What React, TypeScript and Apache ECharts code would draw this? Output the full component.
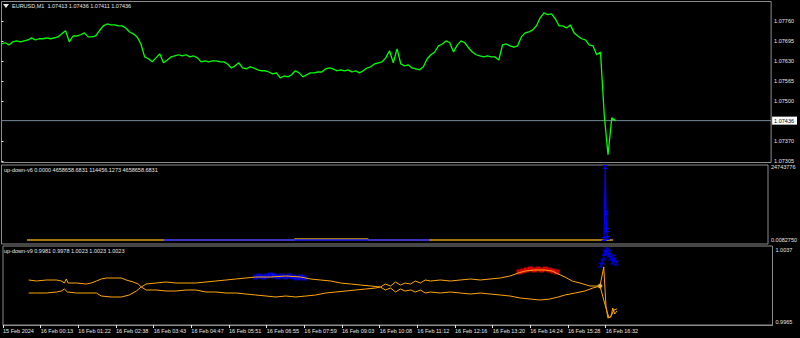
import React, { useEffect, useRef } from "react";
import * as echarts from "echarts";

// ---------- data ----------
const symbolTitle = "EURUSD,M1";
const headerOHLC = ["1.07413", "1.07436", "1.07411", "1.07436"];
const v6Name = "up-down-v6";
const v6Values = ["0.0000", "4658658.6831", "114456.1273", "4658658.6831"];
const v9Name = "up-down-v9";
const v9Values = ["0.9981", "0.9978", "1.0023", "1.0023", "1.0023"];

const timeLabels = [
  "15 Feb 2024", "16 Feb 00:13", "16 Feb 01:22", "16 Feb 02:38", "16 Feb 03:43",
  "16 Feb 04:47", "16 Feb 05:51", "16 Feb 06:55", "16 Feb 07:59", "16 Feb 09:03",
  "16 Feb 10:08", "16 Feb 11:12", "16 Feb 12:16", "16 Feb 13:20", "16 Feb 14:24",
  "16 Feb 15:28", "16 Feb 16:32",
];
const timeTickIdx = timeLabels.map((_, i) => i * 10);

const priceTicks = [1.07305, 1.0737, 1.075, 1.07565, 1.0763, 1.07695, 1.0776];
const lastPrice = 1.07436;

// close price, one value per bar index
const closePrices = [
  1.07685, 1.07689, 1.07682, 1.07692, 1.07695, 1.07692, 1.07695, 1.07698, 1.07705, 1.07698,
  1.07702, 1.07702, 1.07705, 1.07702, 1.07705, 1.07708, 1.07718, 1.07728, 1.07692, 1.07711,
  1.07711, 1.07715, 1.07721, 1.07708, 1.07708, 1.07711, 1.07728, 1.07744, 1.0775, 1.07747,
  1.07747, 1.07744, 1.07744, 1.07737, 1.07724, 1.07718, 1.07708, 1.07685, 1.07643, 1.07637,
  1.07627, 1.0764, 1.07653, 1.07624, 1.07633, 1.07643, 1.07646, 1.0765, 1.07646, 1.0765,
  1.07643, 1.07646, 1.0764, 1.07627, 1.0763, 1.07627, 1.0763, 1.0763, 1.07627, 1.07627,
  1.0762, 1.07607, 1.07614, 1.07624, 1.07607, 1.07604, 1.07611, 1.07607, 1.07601, 1.07598,
  1.07598, 1.07594, 1.07588, 1.07591, 1.07575, 1.07581, 1.07578, 1.07585, 1.07598, 1.07591,
  1.07578, 1.07585, 1.07591, 1.07591, 1.07594, 1.07594, 1.07604, 1.07607, 1.07604, 1.07598,
  1.07601, 1.07598, 1.07601, 1.07594, 1.07598, 1.07591, 1.07598, 1.07607, 1.07611, 1.0762,
  1.07624, 1.07627, 1.0764, 1.07663, 1.07624, 1.07669, 1.0762, 1.07614, 1.07617, 1.07607,
  1.07604, 1.07601, 1.07611, 1.07637, 1.0765, 1.07659, 1.07679, 1.07685, 1.07695, 1.07689,
  1.07659, 1.07682, 1.07695, 1.07689, 1.07672, 1.07659, 1.0765, 1.07646, 1.07643, 1.07646,
  1.07643, 1.07643, 1.07633, 1.07682, 1.07685, 1.07679, 1.07675, 1.07679, 1.07708, 1.07721,
  1.07724, 1.07731, 1.07744, 1.0777, 1.07786, 1.0778, 1.07783, 1.07767, 1.07744, 1.07744,
  1.07737, 1.07747, 1.07721, 1.07711, 1.07702, 1.07698, 1.07682, 1.07679, 1.0765, 1.07659,
  1.07455, 1.07325, 1.07445, 1.07436,
];

// up-down-v6 (panel 2)
const v6Ticks = [0.008275, 24743776];
const v6TickLabels = ["0.0082750", "24743776"];
const v6GoldX = [6.8, 78.0, 78.2, 97.6, 97.8, 163.0];
const v6GoldV = [0.008275, 0.008275, 339000, 339000, 0.008275, 0.008275];
const v6BlueX = [43.3, 114.0];
const v6BlueV = [0.008275, 0.008275];
const v6SpikeX = [160.6, 160.9, 161.1, 161.3, 161.5];
const v6SpikeV = [300000, 24743776, 9150000, 3390000, 680000];

// up-down-v9 (panel 3)
const v9Ticks = [0.9965, 1.0037];
const v9LineAX = [
  6.8, 8.9, 11.5, 14.2, 15.5, 16.3, 16.8, 17.3, 19.5, 22.1, 23.4, 24.8, 26.1, 27.4, 29.3, 31.4,
  32.7, 34.6, 35.9, 36.7, 38.0, 40.6, 43.3, 45.9, 48.6, 51.2, 53.9, 56.5, 59.2, 61.8, 64.5, 67.1,
  69.8, 72.4, 75.1, 77.7, 80.4, 83.0, 85.7, 88.3, 91.0, 93.6, 96.3, 98.9, 100.2, 101.5, 102.9,
  104.2, 105.5, 106.8, 108.2, 109.5, 110.8, 112.1, 113.5, 116.1, 118.8, 121.4, 124.1, 126.7,
  129.3, 132.0, 134.6, 136.8, 138.6, 141.3, 143.9, 145.8, 147.4, 149.2, 151.1, 153.2, 155.8,
  158.5, 159.5, 160.1, 160.6, 161.4, 161.9, 162.4, 163.0,
];
const v9LineAV = [
  1.00065, 1.00055, 1.00065, 1.00065, 1.00055, 1.00035, 1.00075, 1.00035, 1.00035, 1.00025,
  1.00035, 1.00055, 1.00075, 1.00085, 1.00085, 1.00085, 1.00065, 1.00045, 1.00025, 0.99995,
  0.99965, 0.99965, 0.99955, 0.99955, 0.99965, 0.99965, 0.99945, 0.99945, 0.99935, 0.99935,
  0.99925, 0.99915, 0.99905, 0.99895, 0.99905, 0.99895, 0.99905, 0.99915, 0.99935, 0.99945,
  0.99955, 0.99965, 0.99975, 0.99985, 0.99995, 1.00025, 1.00005, 1.00045, 1.00015, 1.00035,
  1.00025, 1.00055, 1.00035, 1.00065, 1.00055, 1.00065, 1.00055, 1.00065, 1.00075, 1.00065,
  1.00075, 1.00085, 1.00105, 1.00135, 1.00155, 1.00165, 1.00165, 1.00155, 1.00125, 1.00095,
  1.00055, 1.00035, 1.00005, 1.00005, 1.00195, 0.99795, 0.99685, 0.99695, 0.99785, 0.99725,
  0.99755,
];
const v9LineBX = [
  6.8, 8.9, 11.5, 14.2, 15.5, 16.3, 17.1, 19.5, 22.1, 24.8, 26.1, 28.7, 31.4, 33.5, 35.4, 36.7,
  38.0, 40.6, 43.3, 45.9, 48.6, 51.2, 53.9, 56.5, 59.2, 61.8, 64.5, 67.1, 71.1, 75.1, 79.0, 81.7,
  84.3, 87.0, 89.6, 92.3, 94.9, 97.6, 100.2, 101.5, 102.9, 104.2, 105.5, 106.8, 108.2, 109.5,
  110.8, 112.1, 113.5, 116.1, 118.8, 121.4, 124.1, 126.7, 129.3, 132.0, 134.6, 137.3, 139.9,
  142.6, 145.2, 147.4, 149.2, 151.9, 154.5, 156.6, 158.5, 159.5, 160.1, 160.9, 161.6, 162.2,
  163.0,
];
const v9LineBV = [
  0.99935, 0.99935, 0.99935, 0.99945, 0.99955, 0.99975, 0.99945, 0.99935, 0.99935, 0.99935,
  0.99905, 0.99895, 0.99895, 0.99915, 0.99955, 0.99995, 1.00025, 1.00035, 1.00045, 1.00035,
  1.00035, 1.00035, 1.00045, 1.00055, 1.00065, 1.00075, 1.00085, 1.00095, 1.00095, 1.00105,
  1.00095, 1.00075, 1.00065, 1.00055, 1.00035, 1.00025, 1.00015, 1.00005, 0.99995, 0.99965,
  0.99985, 0.99945, 0.99975, 0.99955, 0.99965, 0.99945, 0.99965, 0.99935, 0.99945, 0.99935,
  0.99945, 0.99935, 0.99925, 0.99935, 0.99925, 0.99915, 0.99905, 0.99885, 0.99875, 0.99865,
  0.99875, 0.99895, 0.99915, 0.99935, 0.99955, 0.99985, 1.00005, 0.99865, 0.99785, 0.99685,
  0.99715, 0.99765, 0.99775,
];
const v9BlueAX = [67, 68, 69, 70, 71, 72, 73, 74, 75, 76, 77, 78, 79, 80];
const v9BlueAV = [
  1.00095, 1.00105, 1.00095, 1.00105, 1.00115, 1.00105, 1.00095, 1.00105, 1.00095, 1.00105,
  1.00095, 1.00085, 1.00095, 1.00085,
];
const v9RedX = [137, 138, 139, 140, 141, 142, 143, 144, 145, 146, 147];
const v9RedV = [
  1.00145, 1.00155, 1.00165, 1.00175, 1.00165, 1.00175, 1.00165, 1.00175, 1.00165, 1.00155,
  1.00145,
];
const v9BlueBX = [158.6, 159.2, 159.5, 159.8, 160.0, 160.3, 160.8, 161.0, 161.3, 161.8, 162.0, 162.3, 162.8];
const v9BlueBV = [
  1.00215, 1.00245, 1.00295, 1.00345, 1.00335, 1.00365, 1.00315, 1.00345, 1.00285, 1.00245,
  1.00295, 1.00265, 1.00235,
];
const v9CrossX = [158.5];
const v9CrossV = [1.00005];

// ---------- helpers ----------
const zip = (xs: number[], vs: number[]) => xs.map((x, i) => [x, vs[i]]);

const TXT = "#e6e6e6";
const FRAME = "#8c8c8c";
const FONT = "Liberation Sans";
const FS = 5.5;
const X_MAX = 204.3;

const hourglass = "path://M0,0L10,0L5,5L10,10L0,10L5,5Z";

export default function App() {
  const ref = useRef<HTMLDivElement>(null);

  useEffect(() => {
    document.body.style.margin = "0";
    document.body.style.background = "#000";
    if (!ref.current) return;
    const chart = echarts.init(ref.current, undefined, { renderer: "svg" });

    const grids = [
      { left: 1.5, top: 1.5, width: 771, height: 161 },
      { left: 1.5, top: 165, width: 771, height: 79 },
      { left: 1.5, top: 246, width: 771, height: 79 },
    ].map((g) => ({ ...g, show: true, borderColor: FRAME, borderWidth: 1, backgroundColor: "transparent" }));

    const hiddenX = (gi: number) => ({
      type: "value" as const, gridIndex: gi, min: 0, max: X_MAX, show: false,
      splitLine: { show: false },
    });

    const yBase = {
      type: "value" as const,
      position: "right" as const,
      splitLine: { show: false },
      axisLine: { show: false },
      axisTick: { show: true, length: 2, lineStyle: { color: TXT } },
      axisLabel: { color: TXT, fontSize: FS, fontFamily: FONT, margin: 3, showMinLabel: true, showMaxLabel: true },
    };

    const priceLabelValues = [...priceTicks, lastPrice];

    const option: any = {
      animation: false,
      backgroundColor: "#000",
      grid: grids,
      xAxis: [
        hiddenX(0),
        hiddenX(1),
        {
          type: "value", gridIndex: 2, min: 0, max: X_MAX,
          splitLine: { show: false },
          axisLine: { show: true, lineStyle: { color: FRAME } },
          axisTick: { show: true, length: 3, customValues: timeTickIdx, lineStyle: { color: TXT } },
          axisLabel: {
            customValues: timeTickIdx,
            formatter: (v: number) => timeLabels[Math.round(v / 10)] ?? "",
            color: TXT, fontSize: FS, fontFamily: FONT, align: "left", margin: 3,
          },
        },
      ],
      yAxis: [
        {
          ...yBase, gridIndex: 0, min: 1.073, max: 1.07823,
          axisTick: { ...yBase.axisTick, customValues: priceTicks },
          axisLabel: {
            ...yBase.axisLabel, margin: 1, customValues: priceLabelValues,
            formatter: (v: number) =>
              Math.abs(v - lastPrice) < 1e-7 ? "{cur|" + v.toFixed(5) + "}" : "{n|" + v.toFixed(5) + "}",
            rich: {
              n: { color: TXT, fontSize: FS, fontFamily: FONT, padding: [0, 0, 0, 2] },
              cur: {
                color: "#000", backgroundColor: "#ffffff", fontSize: FS, fontFamily: FONT,
                padding: [1, 3, 1, 2],
              },
            },
          },
        },
        {
          ...yBase, gridIndex: 1, min: -1355824, max: 25421688,
          axisTick: { show: false },
          axisLabel: {
            ...yBase.axisLabel, customValues: v6Ticks,
            formatter: (v: number) => (v > 1000 ? v6TickLabels[1] : v6TickLabels[0]),
          },
        },
        {
          ...yBase, gridIndex: 2, min: 0.99615, max: 1.00405,
          axisTick: { show: false },
          axisLabel: { ...yBase.axisLabel, customValues: v9Ticks, formatter: (v: number) => v.toFixed(4) },
        },
      ],
      series: [
        {
          type: "line", xAxisIndex: 0, yAxisIndex: 0,
          data: [[0, lastPrice], [X_MAX, lastPrice]],
          showSymbol: false, silent: true, z: 1,
          lineStyle: { color: "#778899", width: 1 },
        },
        {
          type: "line", xAxisIndex: 0, yAxisIndex: 0, z: 3,
          data: closePrices.map((v, i) => [i, v]),
          showSymbol: false, silent: true,
          lineStyle: { color: "#00ff00", width: 1.3 },
        },
        {
          type: "line", xAxisIndex: 1, yAxisIndex: 1, data: zip(v6GoldX, v6GoldV),
          showSymbol: false, silent: true, lineStyle: { color: "#d4a017", width: 1.5 },
        },
        {
          type: "line", xAxisIndex: 1, yAxisIndex: 1, data: zip(v6BlueX, v6BlueV),
          showSymbol: false, silent: true, lineStyle: { color: "#1a1aff", width: 1.5 },
        },
        {
          type: "line", xAxisIndex: 1, yAxisIndex: 1, data: zip(v6SpikeX, v6SpikeV),
          showSymbol: true, symbol: hourglass, symbolSize: [6, 4], silent: true,
          itemStyle: { color: "#0000ff" }, lineStyle: { color: "#0000ff", width: 1.2 },
        },
        {
          type: "line", xAxisIndex: 2, yAxisIndex: 2, data: zip(v9LineAX, v9LineAV),
          showSymbol: false, silent: true, lineStyle: { color: "#ffa500", width: 1 },
        },
        {
          type: "line", xAxisIndex: 2, yAxisIndex: 2, data: zip(v9LineBX, v9LineBV),
          showSymbol: false, silent: true, lineStyle: { color: "#ffa500", width: 1 },
        },
        {
          type: "scatter", xAxisIndex: 2, yAxisIndex: 2, data: zip(v9BlueAX, v9BlueAV),
          symbol: "rect", symbolSize: [5, 5], silent: true, itemStyle: { color: "#0000ff" },
        },
        {
          type: "scatter", xAxisIndex: 2, yAxisIndex: 2, data: zip(v9RedX, v9RedV),
          symbol: "rect", symbolSize: [5, 5], silent: true, itemStyle: { color: "#ff0000" },
        },
        {
          type: "scatter", xAxisIndex: 2, yAxisIndex: 2, data: zip(v9BlueBX, v9BlueBV),
          symbol: hourglass, symbolSize: [6, 5], silent: true, itemStyle: { color: "#0000ff" },
        },
        {
          type: "scatter", xAxisIndex: 2, yAxisIndex: 2, data: zip(v9CrossX, v9CrossV),
          symbol: "emptyCircle", symbolSize: 6, silent: true,
          itemStyle: { color: "#000", borderColor: "#ffa500", borderWidth: 1 },
        },
      ],
      graphic: [
        { type: "polygon", shape: { points: [[3, 4], [9, 4], [6, 8]] }, style: { fill: TXT } },
        {
          type: "text", x: 12, y: 6,
          style: {
            text: symbolTitle + "  " + headerOHLC.join(" "),
            fill: TXT, fontSize: FS, fontFamily: FONT, verticalAlign: "middle",
          },
        },
        {
          type: "text", x: 4, y: 170,
          style: {
            text: v6Name + " " + v6Values.join(" "),
            fill: TXT, fontSize: FS, fontFamily: FONT, verticalAlign: "middle",
          },
        },
        {
          type: "text", x: 4, y: 251,
          style: {
            text: v9Name + " " + v9Values.join(" "),
            fill: TXT, fontSize: FS, fontFamily: FONT, verticalAlign: "middle",
          },
        },
      ],
    };

    chart.setOption(option);
    return () => chart.dispose();
  }, []);

  return <div ref={ref} style={{ width: 800, height: 338, background: "#000" }} />;
}
